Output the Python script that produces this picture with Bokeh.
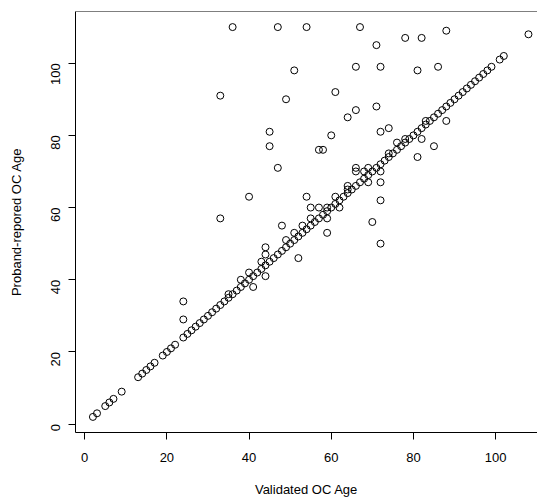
import math
from bokeh.plotting import figure
from bokeh.models import Range1d, FixedTicker, Span, ColumnDataSource
from bokeh.embed import file_html
from bokeh.resources import INLINE

# points lying on the identity line (validated == reported)
diag_ages = [2, 3, 5, 6, 7, 9, 13, 14, 15, 16, 17, 19, 20, 21, 22,
             24, 25, 26, 27, 28, 29, 30, 31, 32, 33, 34, 35, 36, 37, 38, 39,
             40, 41, 42, 43, 44, 45, 46, 47, 48, 49, 50, 51, 52, 53, 54, 55,
             56, 57, 58, 59, 60, 61, 62, 63, 64, 65, 66, 67, 68, 69, 70, 71,
             72, 73, 74, 75, 76, 77, 78, 79, 80, 81, 82, 83, 84, 85, 86, 87,
             88, 89, 90, 91, 92, 93, 94, 95, 96, 97, 98, 99, 101, 102, 108]

# discordant points
off_validated = [24, 24, 33, 33, 36, 35, 38, 40, 40, 41, 43, 44, 44, 44, 45, 45,
                 47, 47, 48, 49, 49, 51, 51, 52, 53, 54, 54, 55, 55, 57, 57, 58,
                 59, 59, 59, 60, 61, 61, 62, 64, 64, 64, 66, 66, 66, 66, 67, 68,
                 69, 69, 70, 71, 71, 72, 72, 72, 72, 72, 72, 74, 74, 76, 78, 78,
                 81, 81, 82, 82, 83, 85, 86, 88, 88]
off_reported = [34, 29, 91, 57, 110, 36, 40, 42, 63, 38, 45, 49, 47, 41, 81, 77,
                110, 71, 55, 90, 51, 98, 53, 46, 55, 110, 63, 60, 57, 60, 76, 76,
                57, 53, 60, 80, 92, 63, 60, 85, 66, 65, 99, 87, 71, 70, 110, 70,
                71, 67, 56, 105, 88, 99, 81, 70, 67, 62, 50, 82, 75, 78, 107, 79,
                98, 74, 107, 79, 84, 77, 99, 109, 84]

x_ticks = [0, 20, 40, 60, 80, 100]
y_ticks = [0, 20, 40, 60, 80, 100]

validated = diag_ages + off_validated
reported = diag_ages + off_reported
src = ColumnDataSource(dict(x=validated, y=reported))

FONT = "Liberation Sans"

p = figure(width=537, height=499, output_backend="svg", toolbar_location=None,
           x_range=Range1d(-2.24, 110.2), y_range=Range1d(-2.32, 114.32),
           min_border_left=75, min_border_right=0, min_border_top=11,
           min_border_bottom=67)
p.outline_line_color = None
p.grid.visible = False
p.background_fill_color = "white"
p.border_fill_color = "white"

p.scatter("x", "y", source=src, marker="circle", size=7,
          fill_color=None, line_color="black", line_width=1)

# top side of the box
p.add_layout(Span(location=114.32, dimension="width", line_color="black",
                  line_width=1))

for ax, ticks in ((p.xaxis[0], x_ticks), (p.yaxis[0], y_ticks)):
    ax.ticker = FixedTicker(ticks=ticks)
    ax.minor_tick_line_color = None
    ax.major_tick_in = 0
    ax.major_tick_out = 7
    ax.axis_line_color = "black"
    ax.major_tick_line_color = "black"
    ax.major_label_text_font = FONT
    ax.major_label_text_font_size = "13px"
    ax.major_label_text_color = "black"
    ax.axis_label_text_font = FONT
    ax.axis_label_text_font_size = "13px"
    ax.axis_label_text_font_style = "normal"
    ax.axis_label_text_color = "black"

p.xaxis[0].axis_label = "Validated OC Age"
p.yaxis[0].axis_label = "Proband-repored OC Age"
p.xaxis[0].major_label_standoff = 13
p.xaxis[0].axis_label_standoff = 17
p.yaxis[0].major_label_orientation = math.pi / 2
p.yaxis[0].major_label_standoff = 13
p.yaxis[0].axis_label_standoff = 20

open("out.html", "w").write(file_html(p, INLINE))
